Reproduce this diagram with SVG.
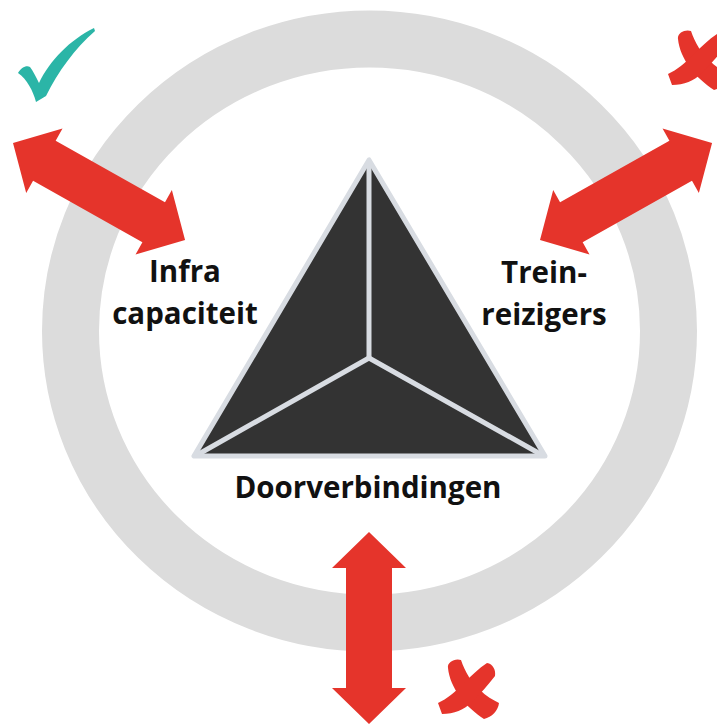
<svg xmlns="http://www.w3.org/2000/svg" width="717" height="725" viewBox="0 0 717 725">
<style>
.ring{fill:none;stroke:#dcdcdc;stroke-width:57}
.arrow{fill:#e5342b}
.tri{fill:#333333;stroke:#d8dce2;stroke-width:5;stroke-linejoin:round}
.div{stroke:#d8dce2;stroke-width:5;stroke-linecap:round}
.lbl{font-family:"Open Sans","Liberation Sans",sans-serif;font-weight:700;font-size:29.5px;fill:#111111;text-anchor:middle}
.ok{fill:#2bb5a7}
.no{fill:#e5342b}
</style>
<g id="ring"><ellipse class="ring" cx="369.5" cy="331" rx="299" ry="292"/></g>
<g id="connectors">
<path class="arrow" transform="translate(13,143) rotate(29.4)" d="M0,0 L36,-37 L36,-23 L161.5,-23 L161.5,-37 L197.5,0 L161.5,37 L161.5,23 L36,23 L36,37 Z"/>
<path class="arrow" transform="translate(540,240) rotate(-29.4)" d="M0,0 L36,-37 L36,-23 L161.5,-23 L161.5,-37 L197.5,0 L161.5,37 L161.5,23 L36,23 L36,37 Z"/>
<path class="arrow" transform="translate(369,532) rotate(90)" d="M0,0 L36,-37 L36,-23 L156,-23 L156,-37 L192,0 L156,37 L156,23 L36,23 L36,37 Z"/>
</g>
<g id="triangle">
<polygon class="tri" points="369,160 194,456 545,456"/>
<line class="div" x1="369" y1="358" x2="369" y2="162"/>
<line class="div" x1="369" y1="358" x2="197" y2="455"/>
<line class="div" x1="369" y1="358" x2="542" y2="455"/>
</g>
<g id="infra"><text class="lbl" x="185" y="282">Infra</text><text class="lbl" x="185" y="324">capaciteit</text></g>
<g id="treinreizigers"><text class="lbl" x="544" y="283">Trein-</text><text class="lbl" x="544" y="325">reizigers</text></g>
<g id="doorverbindingen"><text class="lbl" x="368" y="498">Doorverbindingen</text></g>
<g id="check"><path class="ok" d="M18,73 C21,68 26,65 30,67 C33,71 36,77 39,83 C50,60 70,40 94,28 L95,31 C75,48 58,72 46,96 L36,102 C33,91 27,79 18,73 Z"/></g>
<g id="cross-top" transform="translate(660,21)">
<path class="no" d="M18,18 C17,12 25,8 31,10 C35,22 42,33 50,40 C56,46 63,50 69,53 C68,61 62,67 54,69 C45,63 36,55 30,47 C23,37 19,28 18,18 Z"/>
<path class="no" d="M8,53 C17,49 25,42 33,34 C41,26 49,18 57,13 C63,14 66,20 65,26 C58,35 50,44 42,52 C34,60 24,64 12,64 Z"/>
</g>
<g id="cross-bottom" transform="translate(430,650)">
<path class="no" d="M18,18 C17,12 25,8 31,10 C35,22 42,33 50,40 C56,46 63,50 69,53 C68,61 62,67 54,69 C45,63 36,55 30,47 C23,37 19,28 18,18 Z"/>
<path class="no" d="M8,53 C17,49 25,42 33,34 C41,26 49,18 57,13 C63,14 66,20 65,26 C58,35 50,44 42,52 C34,60 24,64 12,64 Z"/>
</g>
</svg>
